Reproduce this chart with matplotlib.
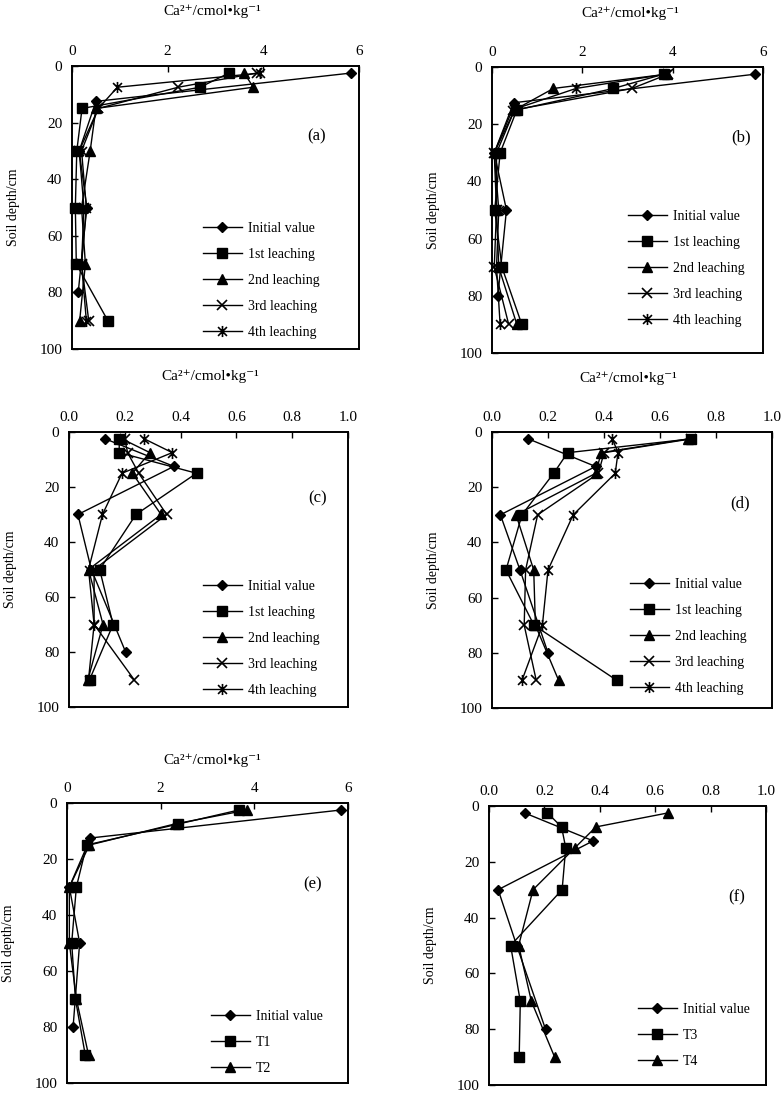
import matplotlib
matplotlib.use('Agg')
import matplotlib.pyplot as plt
from matplotlib.path import Path

plt.rcParams['font.family'] = ['Liberation Serif', 'DejaVu Serif']

# ---------------- data ----------------
depth_init = [2.5, 12.5, 30, 50, 80]
depth_leach = [2.5, 7.5, 15, 30, 50, 70, 90]

leach_labels = ['Initial value', '1st leaching', '2nd leaching', '3rd leaching', '4th leaching']

a_init = [5.83, 0.50, 0.15, 0.31, 0.13]
a_1st = [3.28, 2.68, 0.21, 0.10, 0.07, 0.09, 0.75]
a_2nd = [3.60, 3.79, 0.50, 0.38, 0.20, 0.28, 0.16]
a_3rd = [3.86, 2.22, 0.55, 0.15, 0.25, 0.20, 0.35]
a_4th = [3.93, 0.95, 0.55, 0.20, 0.30, 0.20, 0.30]

b_init = [5.83, 0.48, 0.05, 0.32, 0.13]
b_1st = [3.80, 2.69, 0.55, 0.18, 0.06, 0.22, 0.66]
b_2nd = [3.87, 1.36, 0.50, 0.10, 0.10, 0.15, 0.55]
b_3rd = [3.90, 3.10, 0.50, 0.05, 0.10, 0.05, 0.37]
b_4th = [3.85, 1.86, 0.45, 0.05, 0.15, 0.10, 0.18]

c_init = [0.13, 0.376, 0.032, 0.08, 0.203]
c_1st = [0.18, 0.18, 0.457, 0.24, 0.11, 0.158, 0.074]
c_2nd = [0.19, 0.29, 0.227, 0.33, 0.07, 0.122, 0.068]
c_3rd = [0.20, 0.21, 0.25, 0.35, 0.09, 0.09, 0.233]
c_4th = [0.27, 0.37, 0.19, 0.12, 0.07, 0.09, 0.07]

d_init = [0.13, 0.37, 0.03, 0.10, 0.20]
d_1st = [0.71, 0.27, 0.22, 0.107, 0.05, 0.15, 0.446]
d_2nd = [0.70, 0.39, 0.37, 0.086, 0.149, 0.155, 0.238]
d_3rd = [0.71, 0.40, 0.38, 0.163, 0.12, 0.115, 0.158]
d_4th = [0.43, 0.45, 0.44, 0.29, 0.20, 0.18, 0.107]

e_labels = ['Initial value', 'T1', 'T2']
e_init = [5.85, 0.50, 0.05, 0.27, 0.13]
e_T1 = [3.67, 2.38, 0.42, 0.20, 0.10, 0.18, 0.39]
e_T2 = [3.85, 2.30, 0.48, 0.05, 0.05, 0.20, 0.46]

f_labels = ['Initial value', 'T3', 'T4']
f_init = [0.129, 0.376, 0.033, 0.10, 0.204]
f_T3 = [0.211, 0.262, 0.277, 0.264, 0.078, 0.113, 0.109]
f_T4 = [0.645, 0.386, 0.31, 0.159, 0.107, 0.153, 0.237]

xticks_big = [0, 2, 4, 6]
xticks_small = [0.0, 0.2, 0.4, 0.6, 0.8, 1.0]
yticks = [0, 20, 40, 60, 80, 100]

xtitle = 'Ca²⁺/cmol•kg⁻¹'
ytitle = 'Soil depth/cm'

# ---------------- styles ----------------
W, H = 784, 1095
fig = plt.figure(figsize=(W / 100, H / 100), dpi=100)

star = Path([(0, -1), (0, 1), (-0.8, -0.8), (0.8, 0.8), (-0.8, 0.8), (0.8, -0.8)],
            [Path.MOVETO, Path.LINETO, Path.MOVETO, Path.LINETO, Path.MOVETO, Path.LINETO])

mk = [dict(marker='D', ms=5.5),
      dict(marker='s', ms=7.5),
      dict(marker='^', ms=7.5),
      dict(marker='x', ms=7, mew=1.2),
      dict(marker=star, ms=8, mew=1.2)]
mk_e = [mk[0], mk[1], mk[2]]


def px_axes(l, t, r, b):
    return fig.add_axes([l / W, 1 - b / H, (r - l) / W, (b - t) / H])


def style(ax, xmax, xt, fmt):
    ax.set_xlim(0, xmax)
    ax.set_ylim(100, 0)
    ax.set_xticks(xt)
    ax.set_xticklabels([fmt.format(v) for v in xt])
    ax.set_yticks(yticks)
    ax.xaxis.set_ticks_position('top')
    ax.tick_params(axis='x', direction='in', length=4, width=1.0, labelsize=11,
                   pad=6, top=True, bottom=False, labeltop=True, labelbottom=False)
    ax.tick_params(axis='y', direction='in', length=4, width=1.0, labelsize=11,
                   pad=7, left=True, right=False)
    for s in ax.spines.values():
        s.set_linewidth(1.4)
    ax.set_ylabel(ytitle, fontsize=10, labelpad=14)


def panel(ax, series, labels, markers, letter, lx, ly, leg_xy, xmax, xt, fmt,
          title_xy=None):
    for i, (vals, lab, m) in enumerate(zip(series, labels, markers)):
        d = depth_init if i == 0 else depth_leach
        ax.plot(vals, d, color='black', lw=1.0, mfc='black', mec='black',
                label=lab, clip_on=False, **m)
    style(ax, xmax, xt, fmt)
    ax.text(lx, ly, letter, transform=ax.get_yaxis_transform(), fontsize=12,
            ha='center', va='center')
    ax.legend(loc='upper left', bbox_to_anchor=(leg_xy[0] / W, 1 - leg_xy[1] / H),
              bbox_transform=fig.transFigure, frameon=False, fontsize=10,
              handlelength=2.8, handletextpad=0.45, labelspacing=0.94,
              borderpad=0, borderaxespad=0, markerscale=1.0)
    if title_xy is not None:
        fig.text(title_xy[0] / W, 1 - title_xy[1] / H, xtitle, fontsize=11,
                 ha='center', va='center')


ax_a = px_axes(72, 66, 359, 349)
panel(ax_a, [a_init, a_1st, a_2nd, a_3rd, a_4th], leach_labels, mk, '(a)',
      0.853, 25, (203, 222), 6, xticks_big, '{:g}', (212, 11))

ax_b = px_axes(492, 67, 763, 353)
panel(ax_b, [b_init, b_1st, b_2nd, b_3rd, b_4th], leach_labels, mk, '(b)',
      0.92, 24.5, (628, 210), 6, xticks_big, '{:g}', (630, 13))

ax_c = px_axes(69, 432, 348, 707)
panel(ax_c, [c_init, c_1st, c_2nd, c_3rd, c_4th], leach_labels, mk, '(c)',
      0.89, 24, (203, 580), 1.0, xticks_small, '{:.1f}', (210, 376))

ax_d = px_axes(492, 432, 772, 708)
panel(ax_d, [d_init, d_1st, d_2nd, d_3rd, d_4th], leach_labels, mk, '(d)',
      0.887, 26, (630, 578), 1.0, xticks_small, '{:.1f}', (628, 378))

ax_e = px_axes(67, 803, 348, 1083)
panel(ax_e, [e_init, e_T1, e_T2], e_labels, mk_e, '(e)',
      0.873, 29, (211, 1010), 6, xticks_big, '{:g}', (212, 760))

ax_f = px_axes(489, 806, 766, 1085)
panel(ax_f, [f_init, f_T3, f_T4], f_labels, mk_e, '(f)',
      0.894, 32.7, (638, 1003), 1.0, xticks_small, '{:.1f}', None)

fig.savefig('out.png', dpi=100)
